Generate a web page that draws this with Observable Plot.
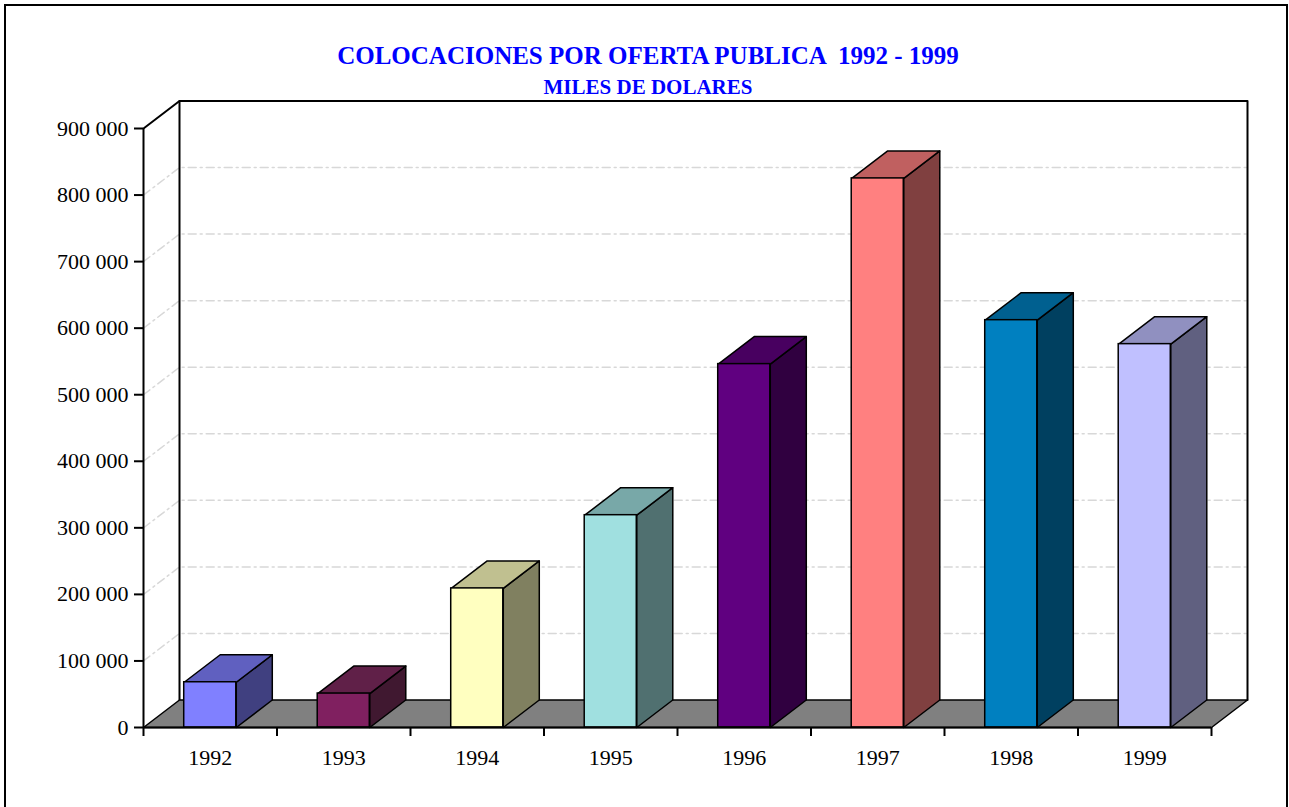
<!DOCTYPE html>
<html>
<head>
<meta charset="utf-8">
<script src="https://cdn.jsdelivr.net/npm/d3@7"></script>
<script src="https://cdn.jsdelivr.net/npm/@observablehq/plot@0.6"></script>
<style>
  html, body { margin: 0; padding: 0; background: #fff; overflow: hidden; }
  #wrap { position: relative; width: 1289px; height: 807px; font-family: "Liberation Serif", "Times New Roman", serif; }
  #frame { position: absolute; left: 4px; top: 4px; width: 1284px; height: 840px; border: 2px solid #000; box-sizing: border-box; }
  .title { position: absolute; left: 0; width: 1296px; text-align: center; color: #0000ff; font-weight: bold; white-space: pre; line-height: 1; }
  #t1 { top: 43px; font-size: 25px; }
  #t2 { top: 77px; font-size: 21px; }
  #chart { position: absolute; left: 0; top: 0; }
</style>
</head>
<body>
<div id="wrap">
  <div id="frame"></div>
  <div class="title" id="t1">COLOCACIONES POR OFERTA PUBLICA  1992 - 1999</div>
  <div class="title" id="t2">MILES DE DOLARES</div>
  <div id="chart"></div>
</div>
<script>
// ---- data ----
const years = ["1992", "1993", "1994", "1995", "1996", "1997", "1998", "1999"];
const values = [68000, 51000, 209000, 319000, 546000, 825000, 612000, 576000];
const frontColors = ["#8080FF", "#802060", "#FFFFC0", "#A0E0E0", "#600080", "#FF8080", "#0080C0", "#C0C0FF"];
const topColors   = ["#6060C0", "#602048", "#C0C090", "#78A8A8", "#480060", "#C06060", "#006090", "#9090C0"];
const sideColors  = ["#404080", "#401830", "#808060", "#507070", "#300040", "#804040", "#004060", "#606080"];
const yTicks = [0, 100000, 200000, 300000, 400000, 500000, 600000, 700000, 800000, 900000];

// ---- geometry (style) ----
const W = 1289, H = 807;
const mLeft = 143, mRight = 78, mTop = 128, mBottom = 80;
const n = years.length;
const yMax = 900000;
const depthPx = {dx: 36, dy: 27.5};
const dxu = depthPx.dx * n / (W - mLeft - mRight);
const dyu = depthPx.dy * yMax / (H - mTop - mBottom);
const halfW = 0.195;

// polygons built from data values
const sides = [], tops = [], fronts = [];
values.forEach((v, i) => {
  const xl = i + 0.5 - halfW, xr = i + 0.5 + halfW;
  fronts.push({x1: xl, x2: xr, y1: 0, y2: v, col: frontColors[i]});
  [[xr, 0], [xr + dxu, dyu], [xr + dxu, v + dyu], [xr, v], [xr, 0]]
    .forEach(([x, y]) => sides.push({id: i, x, y, col: sideColors[i]}));
  [[xl, v], [xr, v], [xr + dxu, v + dyu], [xl + dxu, v + dyu], [xl, v]]
    .forEach(([x, y]) => tops.push({id: i, x, y, col: topColors[i]}));
});

const grid = [];
yTicks.filter(t => t > 0 && t < yMax).forEach(t => {
  [[0, t], [dxu, t + dyu], [n + dxu, t + dyu]].forEach(([x, y]) => grid.push({id: t, x, y}));
});

const floor = [[0, 0], [n, 0], [n + dxu, dyu], [dxu, dyu], [0, 0]].map(([x, y]) => ({x, y}));
const wall = [[dxu, dyu], [dxu, yMax + dyu], [n + dxu, yMax + dyu], [n + dxu, dyu]].map(([x, y]) => ({x, y}));
const leftTop = [[0, yMax], [dxu, yMax + dyu]].map(([x, y]) => ({x, y}));

const fmt = d => d3.format(",")(d).replace(/,/g, " ");

const chart = Plot.plot({
  width: W, height: H,
  marginLeft: mLeft, marginRight: mRight, marginTop: mTop, marginBottom: mBottom,
  x: {domain: [0, n]},
  y: {domain: [0, yMax]},
  color: {type: "identity"},
  style: {fontFamily: "'Liberation Serif', 'Times New Roman', serif", fontSize: "22px", color: "#000", background: "transparent", overflow: "visible"},
  marks: [
    Plot.line(grid, {x: "x", y: "y", z: "id", stroke: "#d8d8d8", strokeWidth: 1.5, strokeDasharray: "8 4 2 4"}),
    Plot.line(wall, {x: "x", y: "y", stroke: "#000", strokeWidth: 2}),
    Plot.line(floor, {x: "x", y: "y", fill: "#808080", stroke: "#000", strokeWidth: 1.5}),
    Plot.line(leftTop, {x: "x", y: "y", stroke: "#000", strokeWidth: 2}),
    Plot.ruleX([0], {y1: 0, y2: yMax, stroke: "#000", strokeWidth: 2}),
    Plot.line(sides, {x: "x", y: "y", z: "id", fill: "col", stroke: "#000", strokeWidth: 1.5}),
    Plot.line(tops, {x: "x", y: "y", z: "id", fill: "col", stroke: "#000", strokeWidth: 1.5}),
    Plot.rect(fronts, {x1: "x1", x2: "x2", y1: "y1", y2: "y2", fill: "col", stroke: "#000", strokeWidth: 1.5}),
    Plot.ruleY([0], {x1: 0, x2: n, stroke: "#000", strokeWidth: 2}),
    Plot.axisY({ticks: yTicks, tickSize: 9, tickPadding: 6, tickFormat: fmt, strokeWidth: 2, fontSize: 22}),
    Plot.axisX({ticks: d3.range(0, n + 1), tickSize: 9, tickFormat: () => "", strokeWidth: 2}),
    Plot.text(years, {x: (d, i) => i + 0.5, y: 0, text: d => d, dy: 30, fontSize: 22, fill: "#000"})
  ]
});
document.getElementById("chart").appendChild(chart);
</script>
</body>
</html>
